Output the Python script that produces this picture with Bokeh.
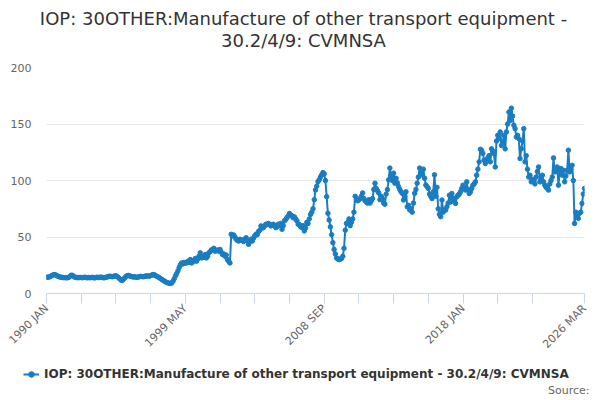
from bokeh.plotting import figure
from bokeh.layouts import column, row
from bokeh.models import Range1d, FixedTicker, Legend, LegendItem, Label
from bokeh.embed import file_html
from bokeh.resources import INLINE
import math

# ---- data (monthly, 1990 JAN .. 2026 MAR) ----
v1990 = [14.5, 14.3, 14.6, 15.0, 15.6, 16.2, 16.8, 16.6, 16.0, 15.4, 14.9, 14.6]
v1991 = [14.3, 14.2, 14.0, 14.1, 13.9, 14.0, 14.3, 15.2, 16.2, 16.0, 15.1, 14.4]
v1992 = [14.1, 14.2, 14.0, 14.3, 14.1, 14.0, 14.2, 14.4, 14.1, 13.9, 14.2, 14.0]
v1993 = [14.1, 14.3, 14.0, 13.8, 14.2, 14.4, 14.1, 14.3, 14.5, 14.2, 13.9, 14.0]
v1994 = [14.4, 14.7, 15.0, 15.3, 15.1, 14.8, 15.2, 15.5, 15.6, 15.0, 14.2, 13.0]
v1995 = [12.0, 11.6, 12.4, 13.8, 15.0, 15.8, 16.0, 15.6, 15.2, 14.9, 14.6, 14.8]
v1996 = [14.5, 14.3, 14.6, 14.9, 15.2, 15.0, 14.8, 15.1, 15.4, 15.6, 15.3, 15.5]
v1997 = [15.8, 16.3, 16.8, 16.5, 15.8, 15.2, 14.6, 14.0, 13.2, 12.4, 11.8, 11.0]
v1998 = [10.4, 9.8, 9.4, 9.0, 8.9, 9.3, 10.8, 13.0, 15.5, 17.5, 20.0, 23.0]
v1999 = [25.5, 27.0, 26.2, 27.5, 26.8, 27.2, 28.5, 27.5, 30.0, 27.0, 28.0, 29.5]
v2000 = [31.0, 28.6, 30.5, 33.0, 36.0, 31.5, 32.5, 32.0, 34.5, 31.5, 33.0, 36.0]
v2001 = [37.0, 38.5, 39.0, 40.0, 37.5, 38.0, 38.4, 37.5, 39.0, 36.5, 34.5, 35.0]
v2002 = [33.0, 34.0, 30.0, 28.5, 27.0, 52.4, 51.0, 51.8, 50.0, 48.0, 47.0, 46.4]
v2003 = [48.0, 47.5, 47.0, 46.0, 48.0, 49.4, 47.0, 43.5, 46.0, 48.0, 46.4, 49.0]
v2004 = [51.0, 52.4, 52.0, 54.8, 56.0, 59.8, 58.0, 58.3, 60.0, 61.3, 61.0, 62.0]
v2005 = [61.0, 59.8, 60.5, 61.3, 60.0, 58.3, 59.0, 61.3, 60.5, 62.0, 56.8, 60.0]
v2006 = [64.3, 65.5, 67.3, 68.5, 70.8, 69.5, 68.7, 67.0, 67.8, 66.0, 64.3, 61.3]
v2007 = [61.0, 59.0, 58.5, 60.0, 55.4, 58.0, 63.0, 62.0, 66.0, 70.0, 72.0, 75.0]
v2008 = [83.0, 91.7, 95.0, 99.0, 100.6, 103.0, 105.0, 107.0, 106.0, 100.0, 85.7, 71.0]
v2009 = [65.0, 59.0, 52.0, 45.0, 39.0, 35.0, 31.5, 30.5, 30.0, 30.5, 31.0, 33.0]
v2010 = [40.0, 56.0, 62.0, 63.0, 66.0, 60.0, 63.0, 66.0, 72.0, 86.0, 83.0, 82.0]
v2011 = [83.0, 84.0, 86.0, 89.0, 84.0, 82.0, 81.0, 80.0, 83.0, 80.0, 82.0, 84.0]
v2012 = [92.0, 97.6, 93.0, 91.0, 89.0, 83.0, 86.0, 84.0, 80.0, 79.0, 88.0, 92.0]
v2013 = [100.6, 111.0, 104.0, 100.0, 106.5, 97.6, 102.0, 98.0, 94.6, 92.0, 90.0, 88.7]
v2014 = [82.7, 86.0, 90.0, 76.8, 78.0, 74.0, 75.0, 72.0, 80.0, 88.7, 92.0, 97.6]
v2015 = [103.0, 111.0, 106.0, 105.0, 110.0, 102.0, 96.0, 94.6, 93.0, 88.0, 86.0, 84.0]
v2016 = [90.0, 105.0, 86.0, 94.0, 75.0, 70.0, 68.0, 82.7, 72.0, 74.0, 73.8, 76.8]
v2017 = [80.0, 87.0, 81.0, 88.5, 84.0, 82.0, 79.7, 85.6, 87.0, 88.0, 90.0, 93.0]
v2018 = [95.9, 93.0, 91.5, 98.8, 92.0, 88.5, 90.0, 93.0, 95.9, 97.0, 98.8, 104.7]
v2019 = [110.0, 116.5, 127.6, 126.8, 124.0, 118.0, 115.0, 118.0, 120.0, 122.0, 116.5, 128.0]
v2020 = [126.0, 123.8, 112.0, 135.0, 140.0, 137.0, 143.0, 131.0, 134.0, 140.0, 128.0, 143.0]
v2021 = [150.0, 160.6, 153.0, 164.0, 157.0, 148.8, 145.9, 138.5, 140.0, 137.0, 119.4, 128.0]
v2022 = [135.0, 145.9, 116.5, 122.0, 110.0, 103.0, 104.7, 98.8, 101.0, 100.0, 97.0, 103.0]
v2023 = [108.0, 112.0, 98.8, 101.0, 104.7, 98.8, 95.9, 94.0, 93.0, 91.5, 97.0, 100.0]
v2024 = [103.0, 120.0, 107.6, 108.0, 112.0, 95.9, 108.0, 110.6, 104.7, 109.0, 98.8, 104.0]
v2025 = [109.0, 126.8, 107.6, 110.0, 113.5, 100.0, 62.0, 72.0, 69.0, 66.5, 71.0, 72.0]
v2026 = [79.7, 88.0, 93.0]

series_name = "IOP: 30OTHER:Manufacture of other transport equipment - 30.2/4/9: CVMNSA"
title_line1 = "IOP: 30OTHER:Manufacture of other transport equipment -"
title_line2 = "30.2/4/9: CVMNSA"
source_text = "Source:"
tick_labels = ["1990 JAN", "1999 MAY", "2008 SEP", "2018 JAN", "2026 MAR"]
y_ticks = [0, 50, 100, 150, 200]

values = (v1990 + v1991 + v1992 + v1993 + v1994 + v1995 + v1996 + v1997 + v1998 +
          v1999 + v2000 + v2001 + v2002 + v2003 + v2004 + v2005 + v2006 + v2007 +
          v2008 + v2009 + v2010 + v2011 + v2012 + v2013 + v2014 + v2015 + v2016 +
          v2017 + v2018 + v2019 + v2020 + v2021 + v2022 + v2023 + v2024 + v2025 + v2026)
months = list(range(len(values)))

MON = ["JAN", "FEB", "MAR", "APR", "MAY", "JUN", "JUL", "AUG", "SEP", "OCT", "NOV", "DEC"]
def month_index(lbl):
    y, m = lbl.split()
    return (int(y) - 1990) * 12 + MON.index(m)

last = months[-1]
step = 28
tick_pos = [t for t in range(0, last, step) if last - t > step] + [last]
overrides = {t: "" for t in tick_pos}
for lbl in tick_labels:
    overrides[month_index(lbl)] = lbl

color = "#1a7dc2"
font = "DejaVu Sans"

def strip(h):
    f = figure(width=600, height=h, output_backend="svg", toolbar_location=None,
               x_axis_type=None, y_axis_type=None,
               x_range=Range1d(0, 1), y_range=Range1d(-2, -1),
               min_border_left=0, min_border_right=0, min_border_top=0, min_border_bottom=0)
    f.outline_line_color = None
    f.background_fill_color = "white"
    f.border_fill_color = "white"
    return f

# ---------------- title strip ----------------
t = strip(50)
for txt, yy in [(title_line1, 32), (title_line2, 10)]:
    t.add_layout(Label(x=303, y=yy, x_units="screen", y_units="screen", text=txt,
                       text_align="center", text_baseline="middle", text_font=font,
                       text_font_size="18px", text_color="#333333"))

# ---------------- main chart ----------------
p = figure(width=600, height=310, output_backend="svg", toolbar_location=None,
           x_range=Range1d(0, last), y_range=Range1d(0, 200),
           min_border_left=46, min_border_right=16, min_border_top=17, min_border_bottom=67)
p.outline_line_color = None
p.background_fill_color = "white"
p.border_fill_color = "white"

p.line(months, values, line_color=color, line_width=2)
p.scatter(months, values, marker="circle", size=4.5, fill_color=color, line_color=color)

xa = p.xaxis[0]
xa.ticker = FixedTicker(ticks=tick_pos)
xa.major_label_overrides = overrides
xa.minor_tick_line_color = None
xa.axis_line_color = "#ccd6eb"
xa.major_tick_line_color = "#ccd6eb"
xa.major_tick_out = 10
xa.major_tick_in = 0
xa.major_label_orientation = math.pi / 4
xa.major_label_text_font = font
xa.major_label_text_font_size = "11px"
xa.major_label_text_color = "#666666"
xa.major_label_standoff = 3

ya = p.yaxis[0]
ya.ticker = FixedTicker(ticks=y_ticks)
ya.axis_line_color = None
ya.major_tick_line_color = None
ya.minor_tick_line_color = None
ya.major_tick_out = 0
ya.major_tick_in = 0
ya.major_label_standoff = 15
ya.major_label_text_font = font
ya.major_label_text_font_size = "11px"
ya.major_label_text_color = "#666666"

p.xgrid.grid_line_color = None
p.ygrid.ticker = FixedTicker(ticks=y_ticks)
p.ygrid.grid_line_color = "#e6e6e6"
p.ygrid.grid_line_width = 1

# ---------------- legend / source strip ----------------
q = strip(40)
# same series (lies outside this strip's ranges), only used for the legend symbol
lg_line = q.line(months, values, line_color=color, line_width=2)
lg_pt = q.scatter(months, values, marker="circle", size=4.5, fill_color=color, line_color=color)

legend = Legend(items=[LegendItem(label=series_name, renderers=[lg_line, lg_pt])],
                location=(23, 19), padding=0, margin=0, spacing=0,
                glyph_width=16, glyph_height=14, label_height=14, label_standoff=5,
                border_line_color=None, background_fill_alpha=0,
                label_text_font=font, label_text_font_size="12px",
                label_text_font_style="bold", label_text_color="#333333")
q.add_layout(legend)
q.add_layout(Label(x=589, y=10, x_units="screen", y_units="screen", text=source_text,
                   text_align="right", text_baseline="middle", text_font=font,
                   text_font_size="11px", text_color="#666666"))

layout = column(row(t), p, row(q), spacing=0)
open("out.html", "w").write(file_html(layout, INLINE))
